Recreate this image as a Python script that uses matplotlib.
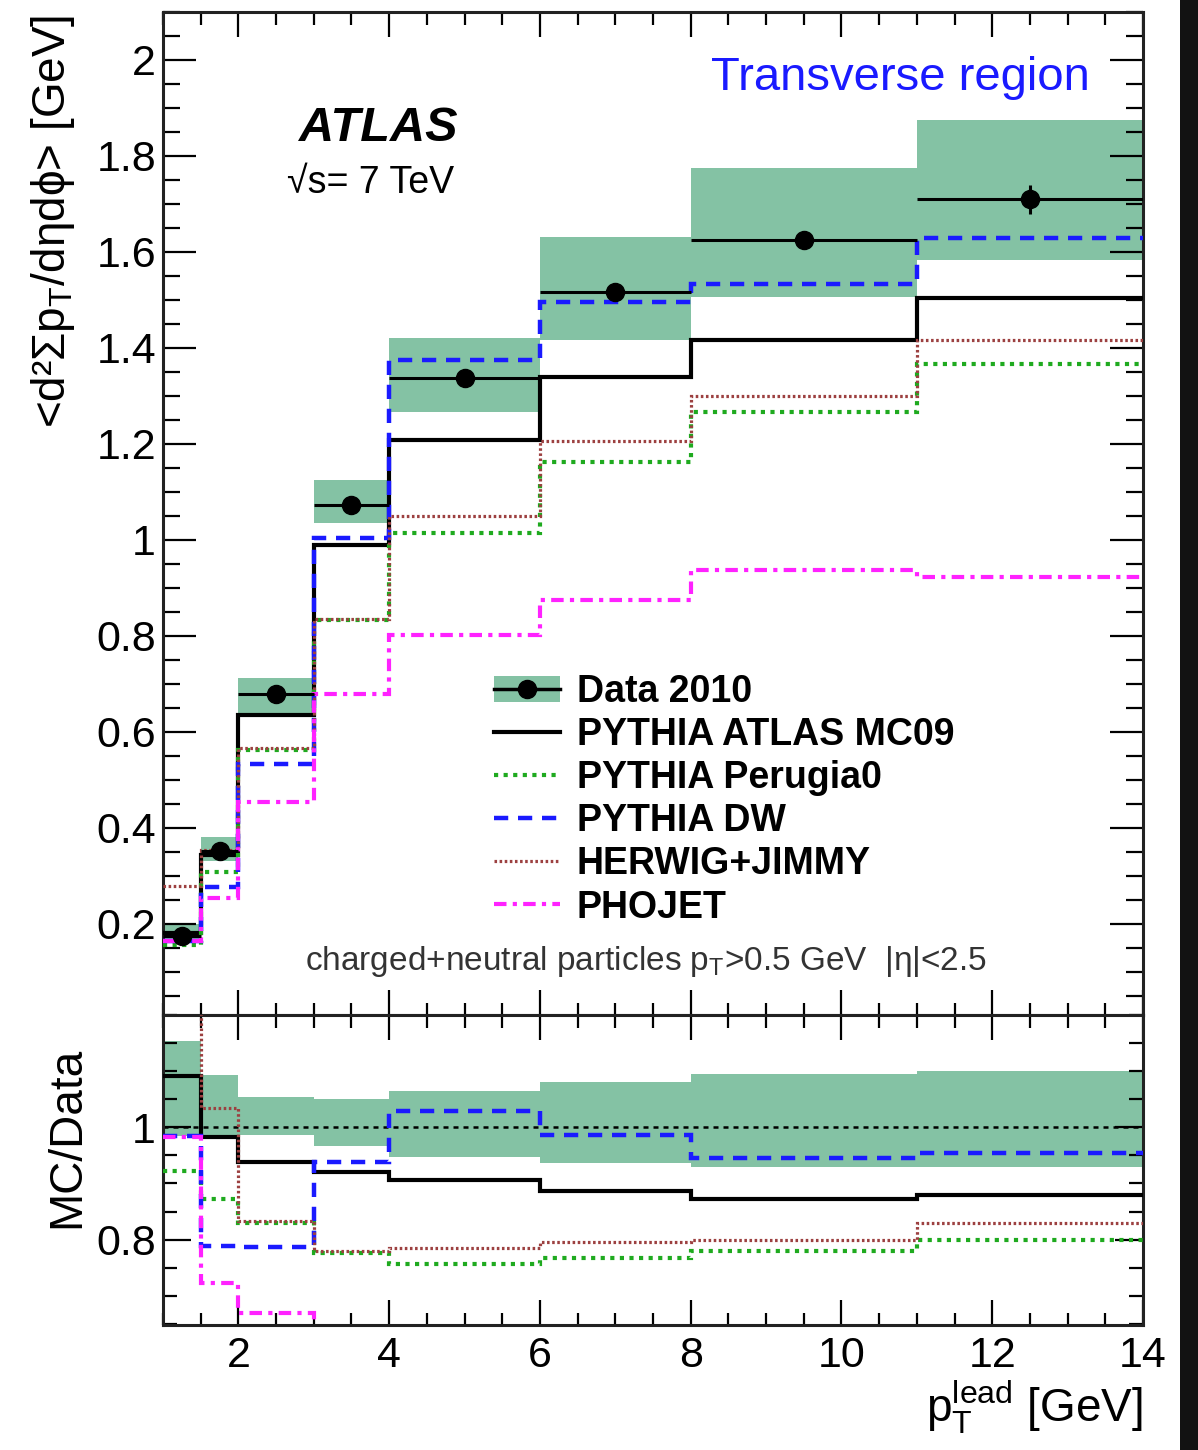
import matplotlib
matplotlib.use("Agg")
import matplotlib.pyplot as plt
import numpy as np
from matplotlib.patches import Patch, Rectangle
from matplotlib.lines import Line2D
from matplotlib.ticker import MultipleLocator, FixedLocator, FixedFormatter

plt.rcParams['font.family'] = ['Liberation Sans', 'DejaVu Sans']
plt.rcParams['mathtext.fontset'] = 'custom'
plt.rcParams['mathtext.rm'] = 'Liberation Sans'
plt.rcParams['mathtext.it'] = 'Liberation Sans:italic'
plt.rcParams['mathtext.bf'] = 'Liberation Sans:bold'

# ---------------- data ----------------
bin_edges = [1, 1.5, 2, 3, 4, 6, 8, 11, 14]
data_x = [1.25, 1.75, 2.5, 3.5, 5, 7, 9.5, 12.5]
data_y = [0.175, 0.352, 0.679, 1.073, 1.338, 1.517, 1.625, 1.710]
data_yerr = [0.005, 0.006, 0.006, 0.007, 0.008, 0.008, 0.010, 0.030]
band_lo = [0.165, 0.330, 0.640, 1.035, 1.267, 1.417, 1.506, 1.583]
band_hi = [0.200, 0.381, 0.713, 1.125, 1.420, 1.631, 1.775, 1.875]

mc09 = [0.181, 0.344, 0.635, 0.990, 1.208, 1.340, 1.417, 1.504]
perugia0 = [0.156, 0.308, 0.563, 0.833, 1.015, 1.163, 1.267, 1.367]
dw = [0.165, 0.277, 0.533, 1.004, 1.375, 1.496, 1.533, 1.629]
herwig = [0.279, 0.354, 0.567, 0.835, 1.050, 1.206, 1.300, 1.417]
phojet = [0.165, 0.254, 0.454, 0.679, 0.802, 0.875, 0.938, 0.923]

ratio_band_lo = [0.985, 0.985, 0.987, 0.966, 0.948, 0.936, 0.929, 0.929]
ratio_band_hi = [1.154, 1.093, 1.054, 1.050, 1.064, 1.080, 1.095, 1.100]
r_mc09 = [1.091, 0.982, 0.938, 0.920, 0.907, 0.886, 0.873, 0.880]
r_perugia0 = [0.923, 0.873, 0.830, 0.777, 0.757, 0.768, 0.779, 0.800]
r_dw = [0.985, 0.789, 0.787, 0.939, 1.029, 0.987, 0.946, 0.955]
r_herwig = [1.600, 1.034, 0.834, 0.780, 0.785, 0.796, 0.800, 0.830]
r_phojet = [0.982, 0.723, 0.670, 0.630, 0.600, 0.580, 0.580, 0.540]

labels = ["Data 2010", "PYTHIA ATLAS MC09", "PYTHIA Perugia0",
          "PYTHIA DW", "HERWIG+JIMMY", "PHOJET"]
main_yticks = [0.2, 0.4, 0.6, 0.8, 1.0, 1.2, 1.4, 1.6, 1.8, 2.0]
main_ytick_labels = ["0.2", "0.4", "0.6", "0.8", "1", "1.2", "1.4", "1.6", "1.8", "2"]
ratio_yticks = [0.8, 1.0]
ratio_ytick_labels = ["0.8", "1"]
xticks = [2, 4, 6, 8, 10, 12, 14]
xtick_labels = ["2", "4", "6", "8", "10", "12", "14"]

# ---------------- styles ----------------
band_col = '#84c2a4'
styles = {
    'mc09': dict(color='black', lw=3.0, ls='-'),
    'perugia0': dict(color='#1faa1f', lw=3.0, ls=(0, (1, 1.3))),
    'dw': dict(color='#1a1aff', lw=3.2, ls=(0, (3.2, 2.2))),
    'herwig': dict(color='#9c4040', lw=2.3, ls=(0, (0.8, 0.8))),
    'phojet': dict(color='#ff22ff', lw=3.0, ls=(0, (3, 1.5, 1, 1.5))),
}

W, H = 1198, 1450
fig = plt.figure(figsize=(W / 100, H / 100), dpi=100)
fig.patch.set_facecolor('white')
fig.patches.append(Rectangle((1180 / W, 0), 18 / W, 1, transform=fig.transFigure,
                             facecolor='#121212', edgecolor='none', zorder=-10))

L, R = 163 / W, 1143 / W
ax = fig.add_axes([L, 1 - 1015 / H, R - L, (1015 - 12) / H])
axr = fig.add_axes([L, 1 - 1325 / H, R - L, (1325 - 1015) / H], sharex=ax)

# ---------------- main panel ----------------
ax.stairs(band_hi, bin_edges, baseline=band_lo, fill=True, color=band_col, lw=0, zorder=1)
ax.stairs(mc09, bin_edges, baseline=None, zorder=3, **styles['mc09'])
ax.stairs(perugia0, bin_edges, baseline=None, zorder=3, **styles['perugia0'])
ax.stairs(dw, bin_edges, baseline=None, zorder=3, **styles['dw'])
ax.stairs(herwig, bin_edges, baseline=None, zorder=3, **styles['herwig'])
ax.stairs(phojet, bin_edges, baseline=None, zorder=3, **styles['phojet'])
ax.errorbar(data_x, data_y, yerr=data_yerr, xerr=np.diff(bin_edges) / 2,
            fmt='o', color='black', ms=13, elinewidth=2.2, capsize=0, zorder=5)

ax.set_xlim(1, 14)
ax.set_ylim(0.01, 2.1)
ax.yaxis.set_major_locator(FixedLocator(main_yticks))
ax.yaxis.set_major_formatter(FixedFormatter(main_ytick_labels))
ax.yaxis.set_minor_locator(MultipleLocator(0.05))
ax.xaxis.set_major_locator(FixedLocator(xticks))
ax.xaxis.set_minor_locator(MultipleLocator(0.5))
ax.tick_params(axis='x', labelbottom=False)

for a in (ax, axr):
    a.tick_params(which='both', direction='in', top=True, right=True, width=1.6,
                  labelsize=31, colors='black')
    for s in a.spines.values():
        s.set_linewidth(2.2)
        s.set_color('#222222')
ax.tick_params(axis='y', which='major', length=24, pad=5)
ax.tick_params(axis='y', which='minor', length=12)
ax.tick_params(axis='x', which='major', length=18)
ax.tick_params(axis='x', which='minor', length=9)

ax.set_ylabel("<d²Σp$_{\\rm T}$/dηdϕ> [GeV]", fontsize=33, loc='top')
ax.yaxis.set_label_coords(-0.088, 0.997)

ax.text(10.787, 1.9625, "Transverse region", color='#1a1aff', fontsize=34,
        ha='center', va='center')
ax.text(3.85, 1.858, "ATLAS", fontsize=35, fontweight='bold', fontstyle='italic',
        ha='center', va='center')
ax.text(3.76, 1.744, "√s= 7 TeV", fontsize=27, ha='center', va='center')
ax.text(7.41, 0.121, "charged+neutral particles p$_{\\rm T}$>0.5 GeV  |η|<2.5",
        fontsize=24, ha='center', va='center', color='#333333')

handles = [
    (Patch(facecolor=band_col, edgecolor='none'),
     Line2D([], [], color='black', lw=2.5, marker='o', ms=13)),
    Line2D([], [], **styles['mc09']),
    Line2D([], [], **styles['perugia0']),
    Line2D([], [], **styles['dw']),
    Line2D([], [], **styles['herwig']),
    Line2D([], [], **styles['phojet']),
]
leg = ax.legend(handles, labels, loc='upper left', bbox_to_anchor=(0.338, 0.340),
                frameon=False, borderpad=0, borderaxespad=0, handlelength=1.75,
                handletextpad=0.45, labelspacing=0.19,
                prop={'family': 'Liberation Sans', 'weight': 'bold', 'size': 27})

# ---------------- ratio panel ----------------
axr.stairs(ratio_band_hi, bin_edges, baseline=ratio_band_lo, fill=True, color=band_col,
           lw=0, zorder=1)
axr.axhline(1.0, color='black', lw=1.8, ls=(0, (2, 2)), zorder=2)
axr.stairs(r_mc09, bin_edges, baseline=None, zorder=3, **styles['mc09'])
axr.stairs(r_perugia0, bin_edges, baseline=None, zorder=3, **styles['perugia0'])
axr.stairs(r_dw, bin_edges, baseline=None, zorder=3, **styles['dw'])
axr.stairs(r_herwig, bin_edges, baseline=None, zorder=3, **styles['herwig'])
axr.stairs(r_phojet, bin_edges, baseline=None, zorder=3, **styles['phojet'])

axr.set_ylim(0.648, 1.2)
axr.yaxis.set_major_locator(FixedLocator(ratio_yticks))
axr.yaxis.set_major_formatter(FixedFormatter(ratio_ytick_labels))
axr.yaxis.set_minor_locator(MultipleLocator(0.05))
axr.xaxis.set_major_formatter(FixedFormatter(xtick_labels))
axr.tick_params(axis='y', which='major', length=20, pad=5)
axr.tick_params(axis='y', which='minor', length=10)
axr.tick_params(axis='x', which='major', length=18, pad=8)
axr.tick_params(axis='x', which='minor', length=9)

axr.set_ylabel("MC/Data", fontsize=33)
axr.yaxis.set_label_coords(-0.075, 0.606)
axr.set_xlabel("p$_{\\rm T}^{\\rm lead}$ [GeV]", fontsize=33, loc='right')
axr.xaxis.set_label_coords(1.0, -0.17)

fig.savefig("out.png", dpi=100, facecolor=fig.get_facecolor())
